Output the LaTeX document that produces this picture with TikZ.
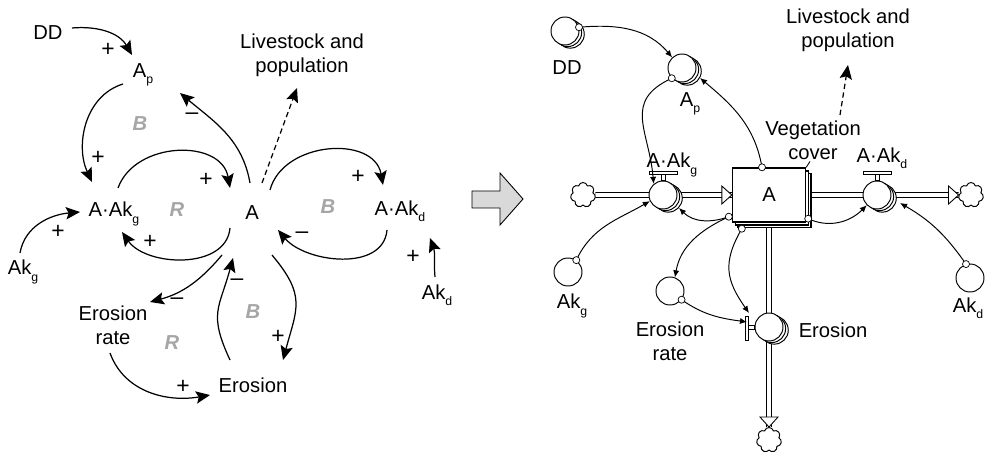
\documentclass[tikz,border=0pt]{standalone}
\usepackage{fontspec}
\setmainfont{Liberation Sans}
\usetikzlibrary{
    arrows.meta,
    shapes.symbols,
    shadows,
    backgrounds
}

\newcommand{\subtx}[1]{\raisebox{-0.6ex}{\fontsize{7}{7}\selectfont #1}}

\tikzset{
    lbl/.style={align=center, inner sep=1pt},
    sgn/.style={inner sep=0pt, font=\fontsize{13}{13}\selectfont},
    loopname/.style={text=black!35, font=\fontsize{11.5}{13}\selectfont\bfseries\itshape},
    cl/.style={line width=0.7pt, -{Stealth[length=8pt,width=7pt,inset=1.5pt]}},
    cn/.style={line width=0.55pt, -{Latex[length=4pt,width=3.5pt]}},
    org/.style={circle, draw, fill=white, inner sep=0pt, minimum size=4pt, line width=0.4pt},
    conv/.style={circle, draw, fill=white, minimum size=0.56cm, inner sep=0pt, line width=0.55pt},
    stacked/.style={double copy shadow={shadow xshift=1.5pt, shadow yshift=-0.9pt}},
    stockbox/.style={draw, fill=white, line width=0.8pt, minimum width=1.46cm, minimum height=1.08cm,
        double copy shadow={shadow xshift=1.6pt, shadow yshift=-1.6pt}},
    cld/.style={cloud, cloud puffs=7, aspect=1, draw, fill=white, minimum size=0.5cm, inner sep=0pt, line width=0.55pt},
    pipe/.style={double, double distance=2.2pt, line width=0.5pt},
    pipehead/.style={draw, fill=white, line width=0.5pt}
}

\begin{document}
\begin{tikzpicture}[x=0.02cm, y=0.02cm, font=\fontsize{11.5}{13.6}\selectfont]

\useasboundingbox (0,0) rectangle (987,-452);

% ---------------- Causal loop diagram (left) ----------------

% Variables
\node[lbl] (DD) at (48,-33) {DD};
\node[lbl] (Ap) at (143,-75) {A\subtx{p}};
\node[lbl] (AAkg) at (114,-214) {A·Ak\subtx{g}};
\node[lbl] (A) at (252,-213) {A};
\node[lbl] (AAkd) at (400,-211) {A·Ak\subtx{d}};
\node[lbl] (Akg) at (23,-272) {Ak\subtx{g}};
\node[lbl] (Akd) at (437,-295) {Ak\subtx{d}};
\node[lbl] (Erate) at (113,-325) {Erosion\\rate};
\node[lbl] (Ero) at (253,-385) {Erosion};
\node[lbl] (Live) at (302,-55) {Livestock and\\population};

% Causal links
\draw[cl] ([shift={(24,5)}]DD.center) to[out=5,in=120] ([shift={(-11,20)}]Ap.center);
\draw[cl] ([shift={(-20,-9)}]Ap.center) to[out=197,in=115] ([shift={(-22,32)}]AAkg.center);
\draw[cl] ([shift={(-2,30)}]A.center) to[out=100,in=-40] ([shift={(37,-18)}]Ap.center);
\draw[cl] ([shift={(4,26)}]AAkg.center) to[out=70,in=100,looseness=1.15] ([shift={(-22,25)}]A.center);
\draw[cl] ([shift={(-22,-15)}]A.center) to[out=-95,in=-55] ([shift={(8,-18)}]AAkg.center);
\draw[cl] ([shift={(-3,19)}]Akg.center) to[out=80,in=185] ([shift={(-34,2)}]AAkg.center);
\draw[cl] ([shift={(18,23)}]A.center) to[out=75,in=100,looseness=1.15] ([shift={(-17,26)}]AAkd.center);
\draw[cl] ([shift={(-13,-19)}]AAkd.center) to[out=-95,in=-50] ([shift={(26,-17)}]A.center);
\draw[cl] ([shift={(-2,18)}]Akd.center) to[out=95,in=-70] ([shift={(30,-27)}]AAkd.center);
\draw[cl] ([shift={(-30,-42)}]A.center) to[out=-130,in=15] ([shift={(37,23)}]Erate.center);
\draw[cl] ([shift={(-3,-28)}]Erate.center) to[out=-70,in=190] ([shift={(-43,-10)}]Ero.center);
\draw[cl] ([shift={(-23,25)}]Ero.center) to[out=115,in=-105,looseness=1.3] ([shift={(-19,-45)}]A.center);
\draw[cl] ([shift={(20,-42)}]A.center) to[out=-50,in=75,looseness=1.3] ([shift={(30,25)}]Ero.center);
\draw[cl, dash pattern=on 3pt off 2pt] ([shift={(10,30)}]A.center) -- ([shift={(-5,-33)}]Live.center);

% Link polarities
\node[sgn] (s1) at (108,-50) {+};
\node[sgn] (s2) at (98,-158) {+};
\node[sgn] (s3) at (192,-116) {–};
\node[sgn] (s4) at (206,-180) {+};
\node[sgn] (s5) at (150,-242) {+};
\node[sgn] (s6) at (58,-232) {+};
\node[sgn] (s7) at (358,-177) {+};
\node[sgn] (s8) at (302,-235) {–};
\node[sgn] (s9) at (413,-257) {+};
\node[sgn] (s10) at (177,-301) {–};
\node[sgn] (s11) at (183,-387) {+};
\node[sgn] (s12) at (237,-282) {–};
\node[sgn] (s13) at (278,-337) {+};

% Loop markers
\node[loopname] (L1) at (140,-124) {B};
\node[loopname] (L2) at (177,-210) {R};
\node[loopname] (L3) at (328,-207) {B};
\node[loopname] (L4) at (253,-312) {B};
\node[loopname] (L5) at (172,-343) {R};

% ---------------- Big arrow ----------------
\draw[fill=black!15, line width=0.5pt] (472,-191) -- (500,-191) -- (500,-173) -- (523,-199)
    -- (500,-225) -- (500,-208) -- (472,-208) -- cycle;

% ---------------- Stock and flow diagram (right) ----------------

% Stock, clouds
\node[stockbox] (Ast) at (769,-195) {A};
\node[cld] (cldL) at (583,-195) {};
\node[cld] (cldR) at (971,-195) {};
\node[cld] (cldB) at (769,-440) {};

% Flows (valves)
\node[conv, stacked] (Vg) at (663,-195) {};
\node[conv, stacked] (Vd) at (877,-195) {};
\node[conv, stacked] (Ve) at (769,-327) {};

% Pipes
\begin{scope}[on background layer]
\draw[pipe] (cldL) -- (Ast);
\draw[pipe] (Ast) -- (cldR);
\draw[pipe] (Ast) -- (cldB);
\end{scope}
\draw[pipehead] (Ast.west) -- ++(-10,9) -- ++(0,-18) -- cycle;
\draw[pipehead] (cldR.west) -- ++(-10,9) -- ++(0,-18) -- cycle;
\draw[pipehead] (cldB.north) -- ++(-9,10) -- ++(18,0) -- cycle;

% Valve handles
\foreach \v in {Vg,Vd} {
    \draw[fill=white, line width=0.5pt] ([shift={(-2,0)}]\v.north) rectangle ([shift={(2,6)}]\v.north);
    \draw[fill=white, line width=0.5pt] ([shift={(-14,6)}]\v.north) rectangle ([shift={(14,9)}]\v.north);
}
\draw[fill=white, line width=0.5pt] ([shift={(-6,-2)}]Ve.west) rectangle ([shift={(0,2)}]Ve.west);
\draw[fill=white, line width=0.5pt] ([shift={(-9,-13)}]Ve.west) rectangle ([shift={(-6,11)}]Ve.west);

% Converters
\node[conv, stacked] (DDc) at (565,-31) {};
\node[conv, stacked] (Apc) at (682,-68) {};
\node[conv] (Akgc) at (568,-272) {};
\node[conv] (Erc) at (670,-291) {};
\node[conv] (Akdc) at (970,-278) {};

% Labels
\node[lbl] (DDl) at (567,-68) {DD};
\node[lbl] (Apl) at (690,-104) {A\subtx{p}};
\node[lbl] (Vgl) at (672,-165) {A·Ak\subtx{g}};
\node[lbl] (Vdl) at (882,-158) {A·Ak\subtx{d}};
\node[lbl] (Vel) at (833,-330) {Erosion};
\node[lbl] (Akgl) at (572,-306) {Ak\subtx{g}};
\node[lbl] (Erl) at (670,-341) {Erosion\\rate};
\node[lbl] (Akdl) at (968,-308) {Ak\subtx{d}};
\node[lbl] (Veg) at (813,-140) {Vegetation\\cover};
\node[lbl] (Live2) at (848,-30) {Livestock and\\population};

\draw[line width=0.5pt] ([shift={(-3,0)}]Veg.south) -- (Ast.north east);
\draw[cl, dash pattern=on 3pt off 2pt] ([shift={(27,25)}]Veg.center) -- ([shift={(0,-35)}]Live2.center);

% Connectors
\draw[cn] (DDc.15) node[org]{} to[out=5,in=130] (Apc.133);
\draw[cn] (Apc.225) node[org]{} to[out=205,in=95,looseness=1.3] (Vg.130);
\draw[cn] ([shift={(-7,0)}]Ast.north) node[org]{} to[out=100,in=-40] ([shift={(18,-10)}]Apc.center);
\draw[cn] ([shift={(-3,6)}]Ast.south west) to[out=200,in=-45] ([shift={(16,-13)}]Vg.center);
\draw[cn] ([shift={(-3,6)}]Ast.south west) node[org]{} to[out=205,in=80] (Erc.70);
\draw[cn] (Akgc.55) node[org]{} to[out=65,in=210] (Vg.205);
\draw[cn] ([shift={(10,-6)}]Ast.south west) node[org]{} to[out=240,in=125,looseness=1.2] ([shift={(-20,14)}]Ve.center);
\draw[cn] (Erc.-37) node[org]{} to[out=-35,in=172] ([shift={(-22,5)}]Ve.center);
\draw[cn] ([shift={(2,4)}]Ast.south east) node[org]{} to[out=-25,in=225] (Vd.225);
\draw[cn] (Akdc.106) node[org]{} to[out=125,in=-30] ([shift={(23,-8)}]Vd.center);

\end{tikzpicture}
\end{document}
